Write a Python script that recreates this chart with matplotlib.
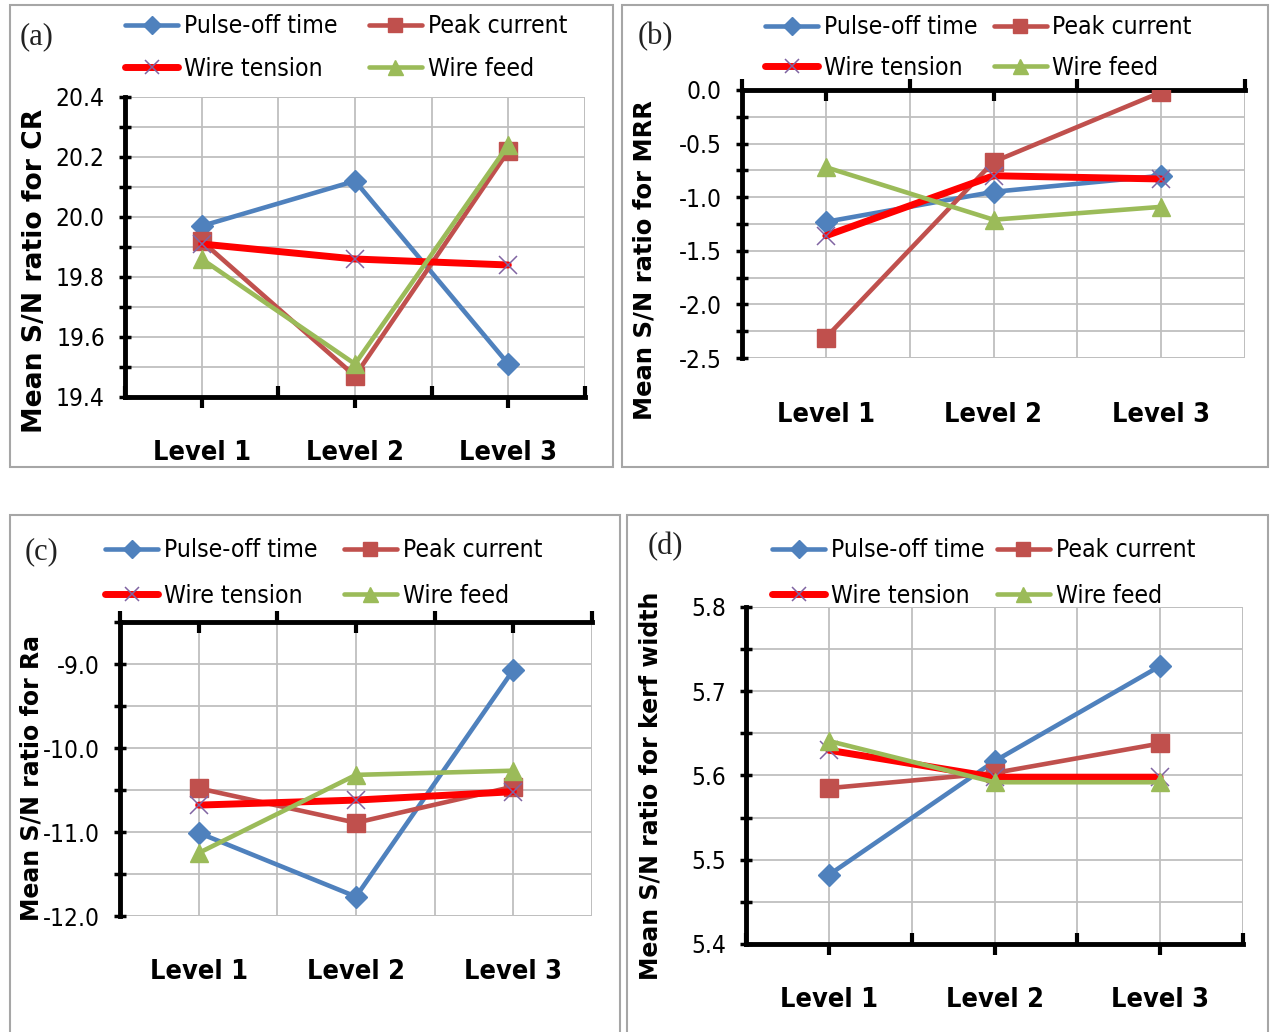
import os
import matplotlib
matplotlib.use('Agg')
import matplotlib.pyplot as plt
from matplotlib.ticker import MultipleLocator, FixedLocator, FuncFormatter
from matplotlib.patches import Rectangle
from matplotlib.font_manager import FontProperties, fontManager
from matplotlib.textpath import TextPath
import numpy as np

# ---------------- data ----------------
levels = ['Level 1', 'Level 2', 'Level 3']
series_names = ['Pulse-off time', 'Peak current', 'Wire tension', 'Wire feed']

cr_pulse = [19.97, 20.12, 19.51]
cr_peak = [19.92, 19.47, 20.22]
cr_tension = [19.91, 19.86, 19.84]
cr_feed = [19.86, 19.51, 20.24]

mrr_pulse = [-1.23, -0.95, -0.80]
mrr_peak = [-2.31, -0.67, -0.02]
mrr_tension = [-1.36, -0.80, -0.83]
mrr_feed = [-0.72, -1.21, -1.09]

ra_pulse = [-11.01, -11.77, -9.07]
ra_peak = [-10.48, -10.89, -10.46]
ra_tension = [-10.68, -10.62, -10.52]
ra_feed = [-11.25, -10.32, -10.27]

kw_pulse = [5.482, 5.617, 5.730]
kw_peak = [5.585, 5.603, 5.638]
kw_tension = [5.630, 5.598, 5.598]
kw_feed = [5.641, 5.592, 5.592]

# ---------------- fonts ----------------
def find_font(prefs):
    files = [f.fname for f in fontManager.ttflist]
    for pref in prefs:
        for fn in files:
            if os.path.basename(fn).lower() == pref:
                return fn
    return None

reg_file = find_font(['liberationsansnarrow-regular.ttf', 'dejavusanscondensed.ttf',
                      'robotocondensed-regular.ttf', 'liberationsans-regular.ttf'])
bold_file = find_font(['liberationsansnarrow-bold.ttf', 'dejavusanscondensed-bold.ttf',
                       'robotocondensed-bold.ttf', 'liberationsans-bold.ttf'])

def narrow_fp(bold=False):
    fn = bold_file if bold else reg_file
    if fn:
        return FontProperties(fname=fn)
    return FontProperties(family='DejaVu Sans', weight='bold' if bold else 'normal')

def fit_size(text, fp, target_px):
    f = fp.copy()
    f.set_size(10)
    w = TextPath((0, 0), text, prop=f).get_extents().width  # points at size 10
    return 10 * target_px / (w * 100 / 72)

# ---------------- styles ----------------
styles = [
    dict(color='#4F81BD', lw=3.3, marker='D', ms=11, mfc='#4F81BD', mec='#4F81BD', mew=1),
    dict(color='#C0504D', lw=3.3, marker='s', ms=12.5, mfc='#C0504D', mec='#C0504D', mew=1),
    dict(color='#FF0000', lw=5.0, marker='x', ms=13, mfc='none', mec='#8064A2', mew=1.1),
    dict(color='#9BBB59', lw=3.3, marker='^', ms=13.5, mfc='#9BBB59', mec='#9BBB59', mew=1),
]

W, H = 1270, 1032
fig = plt.figure(figsize=(12.7, 10.32), dpi=100)

def prect(l, t, r, b):
    return [l / W, 1 - b / H, (r - l) / W, (b - t) / H]

leg_fp = narrow_fp(False)
leg_size = min(fit_size('Pulse-off time', leg_fp, 150), 20)
leg_fp.set_size(leg_size)
leg_px = leg_size * 100 / 72
leg_text_px = TextPath((0, 0), 'Pulse-off time', prop=leg_fp).get_extents().width * 100 / 72

lvl_fp = narrow_fp(True)
lvl_size = min(fit_size('Level 1', lvl_fp, 94), 21)
lvl_fp.set_size(lvl_size)

tick_fp = narrow_fp(False)
tick_size = min(fit_size('20.4', tick_fp, 46), 18)
tick_fp.set_size(tick_size)

panels = [
    dict(data=[cr_pulse, cr_peak, cr_tension, cr_feed], box=(125, 97, 585, 397),
         ylim=(19.4, 20.4), major=0.2, minor=0.1, top=False,
         ylabel='Mean S/N ratio for CR', ylfs=19.2, ylpos=(35, 271),
         leg=(125, 47.5), rowgap=43, col2=365, letter='(a)', lpos=(37, 37), lvly=-0.187,
         border=(10, 5, 613, 467)),
    dict(data=[mrr_pulse, mrr_peak, mrr_tension, mrr_feed], box=(742, 90, 1245, 358),
         ylim=(-2.5, 0.0), major=0.5, minor=0.25, top=True,
         ylabel='Mean S/N ratio for MRR', ylfs=17.5, ylpos=(645, 260),
         leg=(765, 47.5), rowgap=41, col2=990, letter='(b)', lpos=(655, 37), lvly=-0.213,
         border=(622, 5, 1268, 467)),
    dict(data=[ra_pulse, ra_peak, ra_tension, ra_feed], box=(120, 622, 592, 916),
         ylim=(-12.0, -8.5), major=1.0, minor=0.5, top=True,
         ylabel='Mean S/N ratio for Ra', ylfs=17, ylpos=(32, 778),
         leg=(105, 573), rowgap=46, col2=340, letter='(c)', lpos=(42, 552), lvly=-0.19,
         border=(10, 515, 620, 1040)),
    dict(data=[kw_pulse, kw_peak, kw_tension, kw_feed], box=(746, 607, 1243, 944),
         ylim=(5.4, 5.8), major=0.1, minor=0.05, top=False,
         ylabel='Mean S/N ratio for kerf width', ylfs=17, ylpos=(650, 786),
         leg=(772, 573), rowgap=46, col2=993, letter='(d)', lpos=(665, 547), lvly=-0.166,
         border=(627, 515, 1268, 1040)),
]

def fmt(v, pos):
    if abs(v) < 1e-9:
        v = 0.0
    return '%.1f' % v

x = np.arange(1, len(levels) + 1)
handle_px = 53
pad_px = 6

for p in panels:
    ax = fig.add_axes(prect(*p['box']))
    handles = []
    for vals, st in zip(p['data'], styles):
        h, = ax.plot(x, vals, solid_joinstyle='round', solid_capstyle='round', zorder=3, **st)
        handles.append(h)
    ax.set_xlim(0.5, 3.5)
    ax.set_ylim(*p['ylim'])
    ax.xaxis.set_major_locator(FixedLocator([1, 2, 3]))
    ax.xaxis.set_minor_locator(FixedLocator([0.5, 1.5, 2.5, 3.5]))
    ax.yaxis.set_major_locator(MultipleLocator(p['major']))
    ax.yaxis.set_minor_locator(MultipleLocator(p['minor']))
    ax.yaxis.set_major_formatter(FuncFormatter(fmt))
    ax.set_axisbelow(True)
    ax.grid(which='both', color='#BFBFBF', lw=1.3)
    ax.spines['right'].set_visible(False)
    ax.spines['left'].set_linewidth(3.5)
    if p['top']:
        ax.spines['bottom'].set_visible(False)
        ax.spines['top'].set_linewidth(3.5)
        ax.xaxis.tick_top()
        ax.tick_params(axis='x', which='major', direction='in', length=8, width=3,
                       labeltop=False, labelbottom=False)
        ax.tick_params(axis='x', which='minor', direction='out', length=8, width=3)
        ax.axhline(p['ylim'][0], color='#BFBFBF', lw=1.3, zorder=0.5)
    else:
        ax.spines['top'].set_visible(False)
        ax.spines['bottom'].set_linewidth(3.5)
        ax.tick_params(axis='x', which='major', direction='out', length=8, width=3,
                       labelbottom=False)
        ax.tick_params(axis='x', which='minor', direction='in', length=8, width=3)
        ax.axhline(p['ylim'][1], color='#BFBFBF', lw=1.3, zorder=0.5)
    ax.axvline(3.5, color='#BFBFBF', lw=1.3, zorder=0.5)
    ax.tick_params(axis='y', which='both', direction='inout', length=9, width=2.5, pad=10)
    for lab in ax.get_yticklabels():
        lab.set_fontproperties(tick_fp)
    for xi, lv in zip(x, levels):
        ax.text(xi, p['lvly'], lv, transform=ax.get_xaxis_transform(), ha='center',
                va='center', fontproperties=lvl_fp)
    order = [0, 2, 1, 3]
    colsp = (p['col2'] - p['leg'][0] - handle_px - pad_px - leg_text_px) / leg_px
    ax.legend([handles[i] for i in order], [series_names[i] for i in order],
              ncol=2, loc='center left',
              bbox_to_anchor=(p['leg'][0] / W, 1 - p['leg'][1] / H),
              bbox_transform=fig.transFigure, frameon=False, prop=leg_fp,
              handlelength=handle_px / leg_px, handletextpad=pad_px / leg_px,
              columnspacing=max(colsp, 0.2),
              labelspacing=(p['rowgap'] + 4 - 1.17 * leg_px) / leg_px, borderpad=0,
              borderaxespad=0, numpoints=1, markerscale=0.8)
    fig.text(p['ylpos'][0] / W, 1 - p['ylpos'][1] / H, p['ylabel'], rotation=90,
             ha='center', va='center', fontsize=p['ylfs'], fontweight='bold',
             family='DejaVu Sans')
    fig.text(p['lpos'][0] / W, 1 - p['lpos'][1] / H, p['letter'], ha='center', va='center',
             fontsize=22, family=['Liberation Serif', 'DejaVu Serif'], color='#222222')
    l, t, r, b = p['border']
    fig.patches.append(Rectangle((l / W, 1 - b / H), (r - l) / W, (b - t) / H,
                                 transform=fig.transFigure, fill=False,
                                 ec='#A6A6A6', lw=1.5))

fig.savefig('out.png', dpi=100)
